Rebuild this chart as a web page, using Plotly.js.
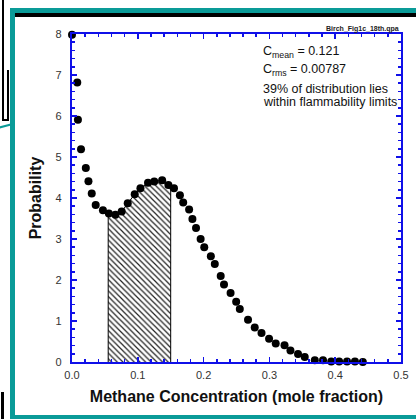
<!DOCTYPE html>
<html>
<head>
<meta charset="utf-8">
<script src="https://cdn.plot.ly/plotly-3.0.1.min.js"></script>
<style>
  html, body { margin:0; padding:0; background:#fff; width:416px; height:419px; overflow:hidden; }
  .abs { position:absolute; }
</style>
</head>
<body>
<div class="abs" style="left:10px;top:8px;width:406px;height:411px;background:#0a9b98;"></div>
<div class="abs" style="left:15px;top:13px;width:401px;height:402px;background:#fff;"></div>
<div class="abs" style="left:15px;top:13px;width:401px;height:4px;background:#000;"></div>
<div class="abs" style="left:2px;top:0px;width:2px;height:121px;background:#000;"></div>
<div class="abs" style="left:7px;top:70px;width:2px;height:51px;background:#000;"></div>
<div class="abs" style="left:2px;top:119px;width:7px;height:2px;background:#000;"></div>
<div class="abs" style="left:-1px;top:125px;width:12px;height:2px;background:#0a9b98;transform:rotate(-15deg);"></div>
<div class="abs" style="left:1px;top:392px;width:3px;height:27px;background:#000;"></div>
<div id="plot" class="abs" style="left:0;top:0;width:416px;height:419px;"></div>
<script>
// Data
const concX = [0, 0.008, 0.009, 0.0137, 0.021, 0.025, 0.030, 0.036, 0.047, 0.056, 0.066, 0.0755, 0.0847, 0.0953, 0.104, 0.1155, 0.125, 0.137, 0.1465, 0.155, 0.164, 0.169, 0.178, 0.183, 0.1885, 0.1955, 0.201, 0.211, 0.217, 0.226, 0.231, 0.241, 0.2495, 0.255, 0.2675, 0.2777, 0.288, 0.2995, 0.3096, 0.323, 0.332, 0.3435, 0.3537, 0.369, 0.3815, 0.394, 0.406, 0.418, 0.430, 0.442];
const probY = [7.98, 6.82, 5.91, 5.19, 4.73, 4.41, 4.11, 3.83, 3.70, 3.62, 3.59, 3.67, 3.87, 4.09, 4.24, 4.37, 4.40, 4.43, 4.32, 4.24, 4.07, 3.89, 3.72, 3.49, 3.27, 3.00, 2.80, 2.58, 2.39, 2.10, 1.89, 1.68, 1.47, 1.29, 1.03, 0.84, 0.71, 0.57, 0.45, 0.41, 0.28, 0.195, 0.12, 0.04, 0.04, 0.015, 0.015, 0.015, 0.015, 0.0];
const lowerLimit = 0.055;   // lower flammability limit (mole fraction)
const upperLimit = 0.15;    // upper flammability limit
const statLines = ["C<sub>mean</sub> = 0.121", "C<sub>rms</sub> = 0.00787", "39% of distribution lies", "within flammability limits"];
const fileTag = "Birch_Fig1c_18th.qpa";
const xTitle = "Methane Concentration (mole fraction)";
const yTitle = "Probability";

function interp(x) {
  for (let i = 0; i < concX.length - 1; i++) {
    if (x >= concX[i] && x <= concX[i+1]) {
      const t = (x - concX[i]) / (concX[i+1] - concX[i]);
      return probY[i] + t * (probY[i+1] - probY[i]);
    }
  }
  return 0;
}
// Build shaded region between flammability limits from the data
const fx = [lowerLimit, lowerLimit], fy = [0, interp(lowerLimit)];
for (let i = 0; i < concX.length; i++) {
  if (concX[i] > lowerLimit && concX[i] < upperLimit) { fx.push(concX[i]); fy.push(probY[i]); }
}
fx.push(upperLimit, upperLimit); fy.push(interp(upperLimit), 0);

const traces = [
  {
    x: fx, y: fy, type: 'scatter', mode: 'lines', fill: 'toself',
    line: {color: '#000', width: 1},
    fillcolor: 'rgba(0,0,0,0)',
    fillpattern: {shape: '\\', fgcolor: '#222', bgcolor: '#fff', size: 4, solidity: 0.3},
    hoverinfo: 'skip', showlegend: false
  },
  {
    x: concX, y: probY, type: 'scatter', mode: 'markers',
    marker: {color: '#000', size: 8},
    cliponaxis: false, showlegend: false
  }
];

const blue = '#1010e8';
const fontFam = 'Arial, Liberation Sans, sans-serif';
const axisCommon = {
  showline: true, linecolor: blue, linewidth: 2, mirror: 'ticks',
  ticks: 'inside', ticklen: 5, tickwidth: 1.5, tickcolor: blue,
  showgrid: false, zeroline: false,
  tickfont: {family: fontFam, size: 11, color: '#333'}
};

const lineYs = [52, 70, 89, 102];
const annotations = statLines.map((t, i) => ({
  xref: 'paper', yref: 'paper', x: (261 - 72.3) / 328.7, y: (362.3 - lineYs[i]) / 328.3,
  xanchor: 'left', yanchor: 'middle', text: t, showarrow: false,
  font: {family: fontFam, size: 12.5, color: '#111'}
}));
annotations.push({
  xref: 'paper', yref: 'paper', x: 1, y: (362.3 - 29) / 328.3,
  xanchor: 'right', yanchor: 'middle', text: '<b>' + fileTag + '</b>', showarrow: false,
  font: {family: fontFam, size: 7, color: '#222'}
});

const layout = {
  width: 416, height: 419,
  margin: {l: 72, r: 15, t: 34, b: 57},
  paper_bgcolor: 'rgba(0,0,0,0)', plot_bgcolor: '#fff',
  showlegend: false,
  xaxis: Object.assign({}, axisCommon, {
    range: [0, 0.5], dtick: 0.1, tick0: 0, tickformat: '.1f', ticklabelstandoff: 2,
    minor: {dtick: 0.02, ticklen: 3, tickcolor: blue, ticks: 'inside'},
    title: {text: '<b>' + xTitle + '</b>', standoff: 11,
      font: {family: fontFam, size: 16, color: '#111'}}
  }),
  yaxis: Object.assign({}, axisCommon, {
    range: [0, 8], dtick: 1, tick0: 0, ticksuffix: '\u00a0\u00a0',
    minor: {dtick: 0.2, ticklen: 3, tickcolor: blue, ticks: 'inside'},
    title: {text: '<b>' + yTitle + '</b>', standoff: 10,
      font: {family: fontFam, size: 16, color: '#111'}}
  }),
  annotations: annotations
};

Plotly.newPlot('plot', traces, layout, {displayModeBar: false, staticPlot: true});
</script>
</body>
</html>
